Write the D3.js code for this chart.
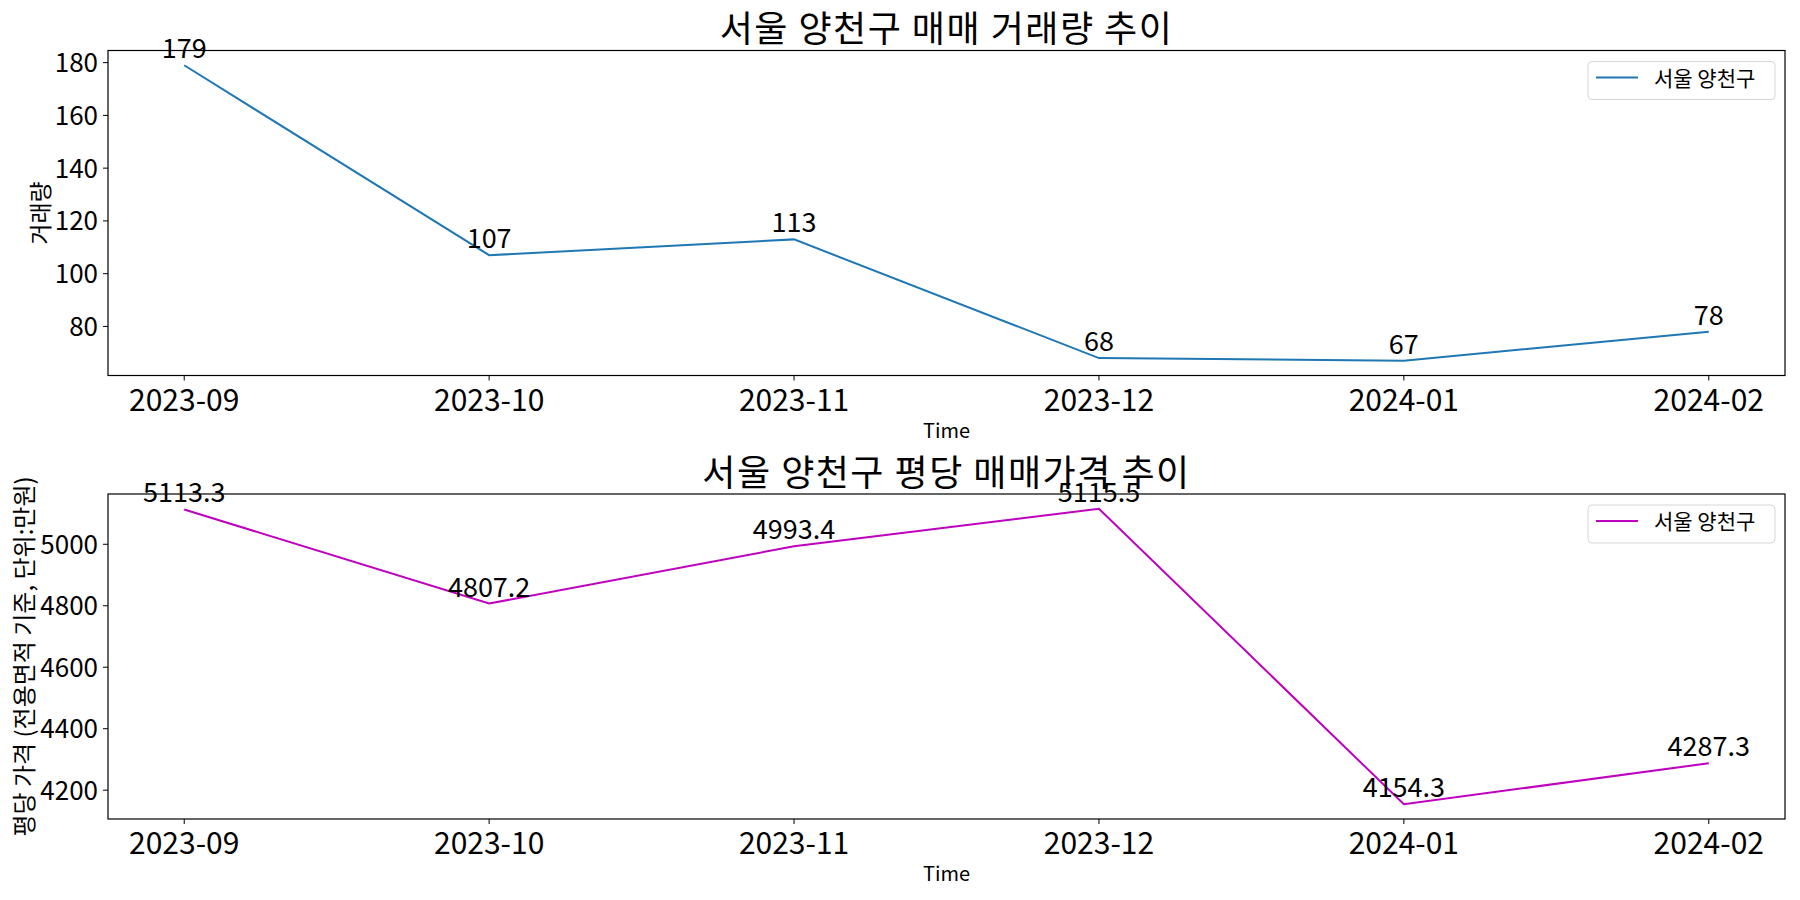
<!DOCTYPE html>
<html>
<head>
<meta charset="utf-8">
<script src="https://cdn.jsdelivr.net/npm/d3@7"></script>
<style>
  body { margin: 0; background: #fff; }
  svg { display: block; font-family: "Noto Sans CJK KR", "Noto Sans", sans-serif; }
</style>
</head>
<body>
<div id="chart"></div>
<script>
// months on the x axis (categorical, evenly spaced)
const months = ["2023-09", "2023-10", "2023-11", "2023-12", "2024-01", "2024-02"];
// 매매 거래량
const volume = [179, 107, 113, 68, 67, 78];
// 평당 매매가격 (만원)
const price = [5113.3, 4807.2, 4993.4, 5115.5, 4154.3, 4287.3];

const volumeTicks = [80, 100, 120, 140, 160, 180];
const priceTicks = [4200, 4400, 4600, 4800, 5000];

const regionName = "서울 양천구";

const width = 1800, height = 900;
const left = 108, right = 1785;

const svg = d3.select("#chart").append("svg")
  .attr("width", width)
  .attr("height", height);

function drawPanel({ top, bottom, values, ticks, color, title, yLabel, yLabelX, yLabelSize, fmt }) {
  const x = d3.scalePoint().domain(months).range([left, right]).padding(0.25);

  // matplotlib style 5% margins around the data
  const [lo, hi] = d3.extent(values);
  const pad = (hi - lo) * 0.05;
  const y = d3.scaleLinear().domain([lo - pad, hi + pad]).range([bottom, top]);

  const g = svg.append("g");

  // x ticks
  const xt = g.append("g").selectAll("g")
    .data(months)
    .enter().append("g")
    .attr("transform", d => `translate(${x(d)},${bottom})`);
  xt.append("line").attr("y2", 5).attr("stroke", "#000").attr("stroke-width", 1);
  xt.append("text")
    .attr("y", 35)
    .attr("text-anchor", "middle")
    .attr("font-size", 30)
    .attr("fill", "#000")
    .text(d => d);

  // y ticks
  const yt = g.append("g").selectAll("g")
    .data(ticks)
    .enter().append("g")
    .attr("transform", d => `translate(${left},${y(d)})`);
  yt.append("line").attr("x2", -5).attr("stroke", "#000").attr("stroke-width", 1);
  yt.append("text")
    .attr("x", -10)
    .attr("dy", "0.36em")
    .attr("text-anchor", "end")
    .attr("font-size", 26)
    .attr("fill", "#000")
    .text(d => d);

  // the series line
  const line = d3.line()
    .x((d, i) => x(months[i]))
    .y(d => y(d));

  g.append("path")
    .datum(values)
    .attr("fill", "none")
    .attr("stroke", color)
    .attr("stroke-width", 2)
    .attr("d", line);

  // value labels
  g.append("g").selectAll("text")
    .data(values)
    .enter().append("text")
    .attr("x", (d, i) => x(months[i]))
    .attr("y", d => y(d) - 7)
    .attr("text-anchor", "middle")
    .attr("font-size", 27)
    .attr("fill", "#000")
    .text(fmt);

  // frame
  g.append("rect")
    .attr("x", left).attr("y", top)
    .attr("width", right - left).attr("height", bottom - top)
    .attr("fill", "none")
    .attr("stroke", "#000")
    .attr("stroke-width", 1.2);

  // title
  g.append("text")
    .attr("x", (left + right) / 2)
    .attr("y", top - 8.5)
    .attr("text-anchor", "middle")
    .attr("font-size", 36)
    .attr("letter-spacing", 1.5)
    .attr("fill", "#000")
    .text(title);

  // axis labels
  g.append("text")
    .attr("x", (left + right) / 2)
    .attr("y", bottom + 62)
    .attr("text-anchor", "middle")
    .attr("font-size", 20)
    .attr("fill", "#000")
    .text("Time");

  g.append("text")
    .attr("transform", `translate(${yLabelX},${(top + bottom) / 2}) rotate(-90)`)
    .attr("text-anchor", "middle")
    .attr("dominant-baseline", "central")
    .attr("font-size", yLabelSize)
    .attr("fill", "#000")
    .text(yLabel);

  // legend, upper right
  const lg = g.append("g").attr("transform", `translate(${right - 197},${top + 11})`);
  lg.append("rect")
    .attr("width", 187).attr("height", 38)
    .attr("rx", 4)
    .attr("fill", "#fff").attr("fill-opacity", 0.8)
    .attr("stroke", "#d6d6d6");
  lg.append("line")
    .attr("x1", 8).attr("x2", 50)
    .attr("y1", 16).attr("y2", 16)
    .attr("stroke", color).attr("stroke-width", 2);
  lg.append("text")
    .attr("x", 66).attr("y", 24)
    .attr("font-size", 21)
    .attr("fill", "#000")
    .text(regionName);
}

drawPanel({
  top: 50.5, bottom: 375.5,
  values: volume, ticks: volumeTicks,
  color: "#1f77b4",
  title: "서울 양천구 매매 거래량 추이",
  yLabel: "거래량", yLabelX: 39, yLabelSize: 23,
  fmt: d => d
});

drawPanel({
  top: 494, bottom: 819,
  values: price, ticks: priceTicks,
  color: "#bf00bf",
  title: "서울 양천구 평당 매매가격 추이",
  yLabel: "평당 가격 (전용면적 기준, 단위:만원)", yLabelX: 22, yLabelSize: 24,
  fmt: d => d.toFixed(1)
});
</script>
</body>
</html>
